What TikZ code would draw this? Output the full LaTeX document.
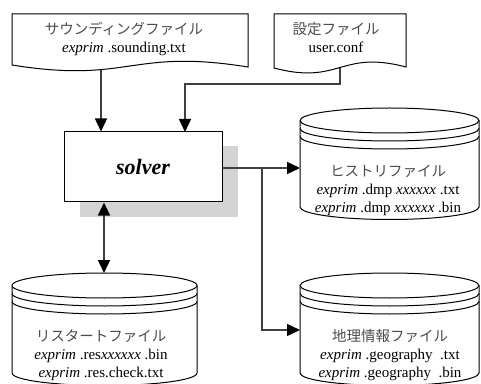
\documentclass[tikz,border=0pt]{standalone}
\usepackage{fontspec}
\setmainfont{Liberation Serif}
\newfontfamily\jp{Noto Sans CJK JP}
\usetikzlibrary{arrows.meta}

\tikzset{
  conn/.style={draw=black!75, line width=1.4pt},
  tip/.style={-{Triangle[length=13pt,width=12pt,black]}},
  twotip/.style={{Triangle[length=13pt,width=12pt,black]}-{Triangle[length=13pt,width=12pt,black]}},
  shapeline/.style={draw=black, line width=1pt, fill=white},
  txt/.style={align=center, inner sep=0pt, font=\fontsize{15pt}{18pt}\selectfont},
}

% document symbol with a wavy bottom edge
\newcommand\docshape[5]{% x0, x1, ytop, yleft, yright
  \pgfmathsetmacro\dmid{(#1+#2)/2}
  \pgfmathsetmacro\ylo{(#4+#5)/2-18}
  \pgfmathsetmacro\yhi{(#4+#5)/2+18}
  \draw[shapeline] (#1,#4) -- (#1,#3) -- (#2,#3) -- (#2,#5)
    .. controls (\dmid,\yhi) and (\dmid,\ylo) .. (#1,#4) -- cycle;
}

% storage drum with two rings under the lid
\def\drumry{12.5}
\newcommand\drumshape[4]{% x0, x1, ytop, ybottom
  \pgfmathsetmacro\rx{(#2-#1)/2}
  \pgfmathsetmacro\cy{#3-\drumry}
  \pgfmathsetmacro\ca{#3-\drumry-8}
  \pgfmathsetmacro\cb{#3-\drumry-16}
  \draw[shapeline] (#1,\cy) -- (#1,#4)
    arc[start angle=180, end angle=360, x radius=\rx pt, y radius=\drumry pt]
    -- (#2,\cy)
    arc[start angle=0, end angle=180, x radius=\rx pt, y radius=\drumry pt] -- cycle;
  \foreach \ry in {\cy,\ca,\cb}
    \draw[line width=1pt] (#1,\ry) arc[start angle=180, end angle=360, x radius=\rx pt, y radius=\drumry pt];
}

\newcommand\jplabel[1]{{\jp\fontsize{14.5pt}{18pt}\selectfont\color{black!70}#1}}

\begin{document}
\begin{tikzpicture}[x=1pt, y=1pt]
\useasboundingbox (0,0) rectangle (481,383);

% anchor points on the files
\coordinate (soundout) at (101,318);
\coordinate (confout) at (340,315);
\coordinate (histin) at (300,215);
\coordinate (geoin) at (300,53);
\coordinate (restin) at (104,110);
\coordinate (split) at (262,215);

% drop shadow and the program box
\fill[black!17] (80,166) rectangle (238,237);
\node[draw=black, line width=1pt, fill=white, minimum width=158pt, minimum height=70pt, inner sep=0pt,
      font=\fontsize{22pt}{24pt}\selectfont\bfseries\itshape] (solver) at (143,216) {solver};

% connectors
\draw[conn, tip] (soundout) -- (soundout |- solver.north);
\draw[conn, tip] (confout) -- (340,299) -- (185,299) -- (185,251);
\draw[conn, tip] (solver.east |- histin) -- (histin);
\draw[conn, tip] (split) -- (split |- geoin) -- (geoin);
\draw[conn, twotip] (restin |- solver.south) -- (restin);

% input files
\docshape{12}{248}{369}{318}{316}
\docshape{274}{406}{369}{315}{316}

% output files
\drumshape{300}{479}{275}{176}
\drumshape{12}{197}{110}{10}
\drumshape{300}{479}{110}{10}

% labels
\node[txt] (soundtxt) at (124,344) {\jplabel{サウンディングファイル}\\\textit{exprim} .sounding.txt};
\node[txt] (conftxt) at (336,345) {\jplabel{設定ファイル}\\user.conf};
\node[txt] (histtxt) at (388,193) {\jplabel{ヒストリファイル}\\\textit{exprim} .dmp \textit{xxxxxx} .txt\\\textit{exprim} .dmp \textit{xxxxxx} .bin};
\node[txt] (resttxt) at (101,28) {\jplabel{リスタートファイル}\\\textit{exprim} .res\textit{xxxxxx} .bin\\\textit{exprim} .res.check.txt};
\node[txt] (geotxt) at (390,28) {\jplabel{地理情報ファイル}\\\textit{exprim} .geography\ \ .txt\\\textit{exprim} .geography\ \ .bin};
\end{tikzpicture}
\end{document}
